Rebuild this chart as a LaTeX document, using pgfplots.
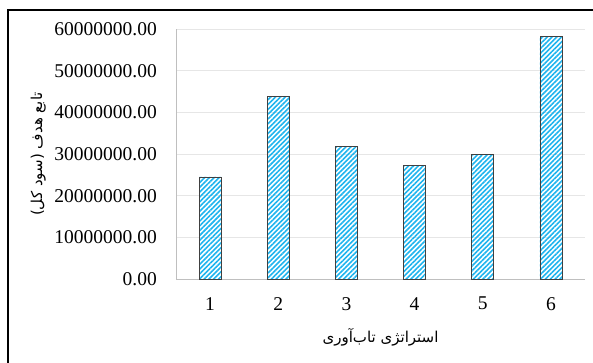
\documentclass[border=0pt]{standalone}
\usepackage{fontspec}
\setmainfont{Liberation Serif}
\newfontfamily\arabicfont[Script=Arabic]{DejaVu Sans}
\TeXXeTstate=1
\usepackage{pgfplots}
\pgfplotsset{compat=1.18}
\usetikzlibrary{patterns.meta}
\definecolor{barblue}{RGB}{30,180,238}
\definecolor{barborder}{RGB}{64,64,64}
\definecolor{gridgray}{RGB}{230,230,230}
\definecolor{axisgray}{RGB}{191,191,191}
\begin{document}
\begin{tikzpicture}
\useasboundingbox (0,0) rectangle (593pt,363pt);
% outer frame of the chart area
\draw[line width=2pt] (8pt,0) -- (8pt,353pt) -- (593pt,353pt);
\begin{axis}[
  at={(176pt,84pt)}, anchor=south west,
  scale only axis, width=409pt, height=250pt,
  ybar, bar width=22pt,
  xmin=0.5, xmax=6.5,
  ymin=0, ymax=60000000,
  xtick={1,2,3,4,5,6},
  ytick={0,10000000,20000000,30000000,40000000,50000000,60000000},
  scaled y ticks=false,
  /pgf/number format/assume math mode=true,
  yticklabel style={/pgf/number format/fixed, /pgf/number format/fixed zerofill,
    /pgf/number format/precision=2, /pgf/number format/1000 sep={}},
  ticklabel style={font=\fontsize{19.5}{20}\selectfont},
  yticklabel style={anchor=east, inner sep=0pt, xshift=-19pt},
  xticklabel style={anchor=north, inner sep=0pt, yshift=-18pt},
  major tick length=0pt,
  axis lines*=left,
  axis line style={draw=axisgray, line width=0.8pt},
  ymajorgrids, grid style={draw=gridgray, line width=0.8pt},
  xlabel={\arabicfont\beginR استراتژی تاب‌آوری\endR},
  ylabel={\arabicfont\beginR تابع هدف (سود کل)\endR},
  label style={font=\fontsize{15}{17}\selectfont},
  xlabel style={at={(axis description cs:0.5,-0.232)}, anchor=center},
  ylabel style={at={(axis description cs:-0.337,0.5)}, anchor=center},
  clip=false,
]
\addplot[draw=barborder, line width=0.7pt,
  pattern={Lines[angle=45,distance=3.4pt,line width=1.6pt]}, pattern color=barblue]
  coordinates {(1,24500000) (2,43900000) (3,31900000) (4,27200000) (5,29900000) (6,58150000)};
\end{axis}
\end{tikzpicture}
\end{document}
